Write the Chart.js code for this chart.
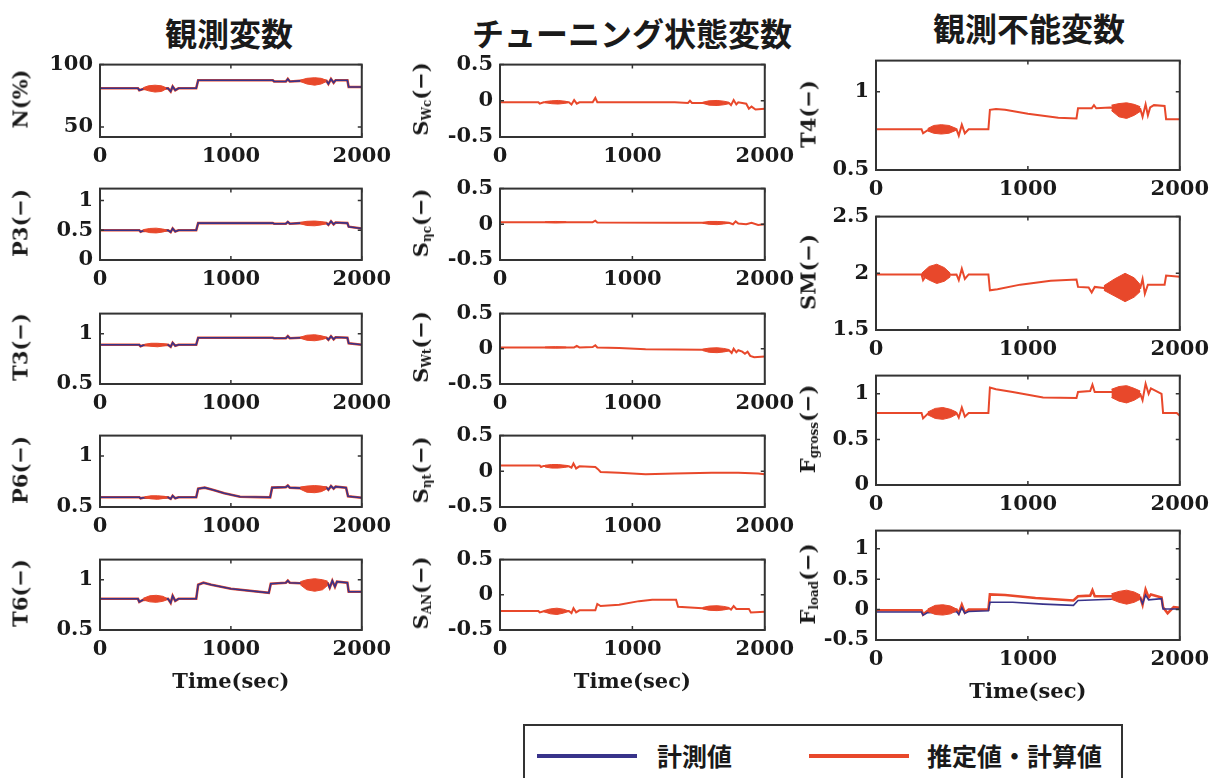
<!DOCTYPE html>
<html lang="ja">
<head>
<meta charset="utf-8">
<title>観測変数・チューニング状態変数・観測不能変数</title>
<script src="https://cdn.jsdelivr.net/npm/chart.js@4.4.1/dist/chart.umd.min.js"></script>
<style>
  body { margin: 0; background: #fff; overflow: hidden; }
  #fig { position: relative; width: 1221px; height: 778px; overflow: hidden; background: #fff; }
  .col-title { position: absolute; transform: translate(-50%, -50%); white-space: nowrap;
    font: bold 32px "Noto Sans CJK JP", sans-serif; color: #1a1a1a; }
  .panel { position: absolute; }
  .ylab { position: absolute; transform: translate(-50%, -50%) rotate(-90deg); white-space: nowrap;
    font: bold 21px "DejaVu Serif", serif; color: #1a1a1a; }
  .ylab sub { font-size: 12px; vertical-align: -3px; }
  #leyenda { position: absolute; left: 523px; top: 724px; width: 600px; height: 66px;
    border: 2px solid #333; box-sizing: border-box; background: #fff; }
  #leyenda .linea { position: absolute; top: 28px; width: 100px; height: 4px; }
  #leyenda .txt { position: absolute; top: 12px; font: bold 25px "Noto Sans CJK JP", sans-serif; color: #1a1a1a; line-height: 34px; }
</style>
</head>
<body>
<div id="fig">
  <div class="col-title" style="left:229px; top:32px">観測変数</div>
  <div class="col-title" style="left:632px; top:32px">チューニング状態変数</div>
  <div class="col-title" style="left:1029px; top:27px">観測不能変数</div>

  <div id="leyenda">
    <div class="linea" style="left:12px; background:#38338a"></div>
    <div class="txt" style="left:132px">計測値</div>
    <div class="linea" style="left:284px; background:#e8482b"></div>
    <div class="txt" style="left:402px">推定値・計算値</div>
  </div>
</div>

<script>
// ---- datos: [tiempo, valor] ; rafagas: [tiempo, min, max] ----
const xTicks = [0, 1000, 2000];

// 観測変数
const ticksN = [50, 100];
const nLinea = [[0,81],[290,81],[300,79.5],[330,80.5],[520,81],[540,78.5],[555,82.5],[575,79.5],[600,81],[735,81],[750,87.5],[1320,87.5],[1330,86.5],[1420,86.5],[1435,88.5],[1450,86.5],[1530,87],[1730,87],[1745,84.5],[1765,88.5],[1785,85.5],[1800,87.5],[1890,87.5],[1900,82],[2000,82]];
const nR1 = [[330,80.5,81.5],[370,79,83],[420,78,83.5],[470,78.5,83],[505,80.5,81.5]];
const nR2 = [[1530,86.5,87.5],[1580,84.5,89],[1640,83.5,89.5],[1690,84.5,89],[1730,86.5,87.5]];

const ticksP3 = [0, 0.5, 1];
const p3Linea = [[0,0.5],[300,0.5],[310,0.475],[330,0.49],[520,0.5],[540,0.47],[555,0.53],[575,0.48],[600,0.5],[735,0.5],[750,0.62],[1320,0.62],[1330,0.61],[1420,0.61],[1435,0.64],[1450,0.61],[1530,0.62],[1730,0.62],[1745,0.59],[1765,0.65],[1785,0.6],[1800,0.63],[1890,0.62],[1900,0.56],[2000,0.53]];
const p3R1 = [[330,0.49,0.51],[380,0.46,0.53],[430,0.455,0.535],[480,0.47,0.52],[510,0.49,0.505]];
const p3R2 = [[1530,0.61,0.63],[1580,0.58,0.65],[1640,0.575,0.655],[1690,0.59,0.645],[1730,0.61,0.63]];

const ticksHalf = [0.5, 1];
const t3Linea = [[0,0.89],[300,0.89],[310,0.875],[330,0.885],[520,0.89],[540,0.87],[555,0.91],[575,0.88],[600,0.89],[735,0.89],[750,0.96],[1320,0.96],[1330,0.955],[1420,0.955],[1435,0.975],[1450,0.955],[1530,0.96],[1730,0.96],[1745,0.94],[1765,0.975],[1785,0.945],[1800,0.965],[1890,0.96],[1900,0.905],[2000,0.89]];
const t3R1 = [[340,0.885,0.895],[390,0.875,0.905],[440,0.87,0.905],[490,0.88,0.9],[515,0.885,0.895]];
const t3R2 = [[1530,0.955,0.965],[1580,0.935,0.985],[1640,0.93,0.99],[1690,0.94,0.98],[1730,0.955,0.965]];

const p6Linea = [[0,0.595],[300,0.595],[310,0.585],[330,0.59],[520,0.595],[540,0.58],[555,0.61],[575,0.585],[600,0.595],[735,0.595],[750,0.68],[800,0.69],[860,0.67],[950,0.635],[1070,0.6],[1300,0.595],[1315,0.69],[1420,0.695],[1435,0.71],[1450,0.69],[1530,0.685],[1730,0.69],[1745,0.67],[1765,0.705],[1785,0.68],[1800,0.7],[1880,0.69],[1895,0.605],[2000,0.59]];
const p6R1 = [[340,0.59,0.6],[390,0.58,0.61],[440,0.575,0.61],[490,0.585,0.605],[515,0.59,0.6]];
const p6R2 = [[1530,0.675,0.695],[1580,0.645,0.705],[1640,0.64,0.71],[1690,0.65,0.705],[1730,0.675,0.695]];

const t6Linea = [[0,0.81],[290,0.81],[300,0.78],[330,0.8],[520,0.81],[540,0.77],[555,0.84],[575,0.79],[600,0.81],[735,0.81],[750,0.95],[790,0.97],[850,0.95],[1000,0.91],[1290,0.87],[1305,0.96],[1420,0.97],[1435,0.99],[1450,0.97],[1530,0.965],[1740,0.965],[1755,0.92],[1775,0.99],[1795,0.93],[1810,0.98],[1890,0.97],[1900,0.88],[2000,0.88]];
const t6R1 = [[330,0.8,0.815],[380,0.78,0.84],[430,0.775,0.845],[480,0.785,0.835],[510,0.8,0.815]];
const t6R2 = [[1530,0.95,0.98],[1580,0.9,1.0],[1640,0.885,1.01],[1700,0.9,1.0],[1740,0.945,0.985]];

// チューニング状態変数
const ticksS = [-0.5, 0, 0.5];
const swcLinea = [[0,-0.02],[290,-0.02],[300,-0.04],[330,-0.02],[520,-0.02],[540,-0.05],[560,0.01],[580,-0.04],[600,-0.02],[700,-0.02],[720,0.04],[735,-0.02],[1320,-0.02],[1420,-0.03],[1435,0.0],[1450,-0.03],[1530,-0.03],[1730,-0.03],[1745,-0.06],[1765,0.01],[1785,-0.05],[1800,-0.02],[1860,-0.04],[1880,-0.11],[1900,-0.08],[1930,-0.12],[2000,-0.11]];
const swcR1 = [[340,-0.025,-0.01],[390,-0.04,0.0],[440,-0.045,0.005],[490,-0.035,-0.005],[515,-0.025,-0.015]];
const swcR2 = [[1530,-0.035,-0.02],[1580,-0.06,0.0],[1640,-0.065,0.005],[1690,-0.055,-0.005],[1730,-0.04,-0.02]];

const etacLinea = [[0,0.03],[700,0.03],[720,0.05],[735,0.025],[1320,0.02],[1530,0.02],[1730,0.02],[1760,0.0],[1780,0.04],[1800,0.01],[1860,0.0],[1900,0.02],[1950,-0.01],[2000,0.0]];
const etacR1 = [[340,0.025,0.035],[420,0.02,0.04],[500,0.025,0.035]];
const etacR2 = [[1530,0.015,0.025],[1580,0.0,0.04],[1640,-0.005,0.04],[1690,0.005,0.035],[1730,0.015,0.025]];

const swtLinea = [[0,0.02],[500,0.02],[560,0.02],[580,0.04],[600,0.02],[700,0.025],[720,0.05],[735,0.02],[900,0.01],[1100,-0.005],[1320,-0.01],[1530,-0.015],[1730,-0.02],[1750,-0.06],[1765,0.0],[1785,-0.05],[1800,-0.02],[1830,-0.04],[1850,-0.07],[1870,-0.04],[1890,-0.1],[1920,-0.12],[2000,-0.11]];
const swtR1 = [[340,0.015,0.025],[420,0.01,0.03],[500,0.015,0.025]];
const swtR2 = [[1530,-0.025,-0.005],[1580,-0.05,0.01],[1640,-0.055,0.015],[1690,-0.045,0.005],[1730,-0.03,-0.01]];

const etatLinea = [[0,0.08],[300,0.08],[310,0.06],[330,0.075],[520,0.07],[540,0.05],[555,0.11],[575,0.04],[600,0.07],[720,0.06],[740,0.03],[760,-0.01],[900,-0.02],[1100,-0.04],[1320,-0.03],[1600,-0.02],[1800,-0.02],[1950,-0.03],[2000,-0.04]];
const etatR1 = [[340,0.06,0.085],[390,0.045,0.095],[440,0.045,0.095],[490,0.055,0.085],[515,0.065,0.08]];

const sanLinea = [[0,-0.23],[290,-0.23],[300,-0.25],[330,-0.235],[520,-0.23],[540,-0.26],[555,-0.19],[575,-0.25],[600,-0.22],[720,-0.22],[735,-0.13],[760,-0.16],[900,-0.14],[1050,-0.09],[1150,-0.07],[1330,-0.07],[1345,-0.17],[1530,-0.19],[1730,-0.19],[1745,-0.21],[1765,-0.16],[1785,-0.2],[1880,-0.2],[1895,-0.25],[2000,-0.24]];
const sanR1 = [[330,-0.24,-0.225],[380,-0.27,-0.2],[430,-0.28,-0.19],[480,-0.26,-0.205],[510,-0.24,-0.225]];
const sanR2 = [[1530,-0.2,-0.18],[1580,-0.22,-0.16],[1640,-0.225,-0.155],[1690,-0.215,-0.165],[1730,-0.2,-0.18]];

// 観測不能変数
const t4Linea = [[0,0.76],[300,0.76],[310,0.735],[340,0.755],[530,0.76],[545,0.72],[565,0.79],[585,0.735],[610,0.76],[740,0.76],[750,0.885],[790,0.89],[850,0.885],[1000,0.86],[1200,0.835],[1320,0.83],[1330,0.895],[1420,0.895],[1435,0.915],[1450,0.895],[1540,0.9],[1740,0.89],[1755,0.84],[1775,0.92],[1790,0.85],[1805,0.9],[1830,0.915],[1900,0.91],[1910,0.825],[2000,0.825]];
const t4R1 = [[340,0.75,0.765],[380,0.735,0.785],[430,0.73,0.79],[480,0.735,0.785],[530,0.755,0.765]];
const t4R2 = [[1550,0.88,0.915],[1600,0.84,0.925],[1650,0.83,0.93],[1700,0.85,0.92],[1740,0.875,0.905]];

const ticksSM = [1.5, 2, 2.5];
const smLinea = [[0,1.99],[300,1.99],[310,1.94],[330,1.98],[530,1.99],[545,1.94],[565,2.04],[585,1.95],[610,1.99],[740,1.99],[750,1.85],[800,1.86],[950,1.9],[1150,1.935],[1320,1.945],[1330,1.88],[1400,1.875],[1420,1.83],[1440,1.88],[1500,1.87],[1740,1.87],[1755,1.95],[1770,1.82],[1790,1.9],[1900,1.9],[1910,1.98],[2000,1.97]];
const smR1 = [[300,1.98,2.0],[350,1.94,2.06],[400,1.91,2.08],[450,1.93,2.05],[490,1.97,2.0]];
const smR2 = [[1500,1.85,1.89],[1570,1.8,1.95],[1640,1.75,2.0],[1700,1.79,1.96],[1740,1.84,1.9]];

const fgLinea = [[0,0.79],[300,0.79],[310,0.73],[340,0.78],[530,0.79],[545,0.74],[565,0.85],[585,0.75],[610,0.79],[740,0.79],[750,1.07],[790,1.05],[900,1.02],[1100,0.96],[1320,0.955],[1330,1.02],[1410,1.03],[1425,1.1],[1440,1.02],[1550,1.02],[1740,1.0],[1755,0.93],[1775,1.11],[1795,1.0],[1810,1.06],[1880,1.0],[1890,0.79],[1980,0.79],[2000,0.76]];
const fgR1 = [[340,0.77,0.8],[390,0.73,0.84],[440,0.72,0.85],[490,0.74,0.83],[530,0.775,0.8]];
const fgR2 = [[1550,0.96,1.05],[1600,0.92,1.08],[1650,0.9,1.09],[1700,0.93,1.06],[1740,0.97,1.03]];

const ticksFL = [-0.5, 0, 0.5, 1];
const flRojo = [[0,-0.01],[300,-0.01],[310,-0.08],[340,-0.02],[530,0.0],[545,-0.06],[565,0.08],[585,-0.05],[610,0.0],[740,0.0],[750,0.25],[850,0.24],[1050,0.19],[1300,0.15],[1330,0.22],[1410,0.23],[1425,0.32],[1440,0.22],[1550,0.22],[1740,0.2],[1755,0.08],[1775,0.33],[1795,0.2],[1810,0.25],[1880,0.2],[1890,0.04],[1920,-0.06],[1960,0.04],[2000,0.03]];
const flAzul = [[0,-0.04],[300,-0.04],[310,-0.09],[340,-0.05],[530,-0.03],[545,-0.08],[565,0.03],[585,-0.06],[610,-0.03],[740,-0.02],[750,0.12],[900,0.12],[1100,0.09],[1300,0.07],[1330,0.15],[1550,0.17],[1740,0.19],[1755,0.1],[1775,0.24],[1795,0.16],[1880,0.18],[1890,0.01],[2000,0.01]];
const flR1 = [[340,-0.03,0.01],[390,-0.08,0.07],[440,-0.09,0.08],[490,-0.07,0.06],[530,-0.02,0.01]];
const flR2 = [[1550,0.17,0.26],[1600,0.12,0.3],[1650,0.09,0.32],[1700,0.12,0.29],[1740,0.17,0.24]];

// ---- estilos y disposicion ----
const ROJO = '#e8482b';
const AZUL = '#38338a';
const FUENTE = '"DejaVu Serif", serif';

// caja de cada panel: [izq, der] por columna y [arriba, abajo] por fila
const colX = [[100, 362], [500, 765], [876, 1180]];
const filaY = [
  [[61, 137], [185, 260], [310, 384], [432, 507], [556, 630]],
  [[61, 137], [185, 260], [310, 384], [432, 507], [556, 630]],
  [[57, 170], [213, 330], [372, 485], [527, 640]]
];
const yLabX = [20, 421, 808];

const paneles = [
  { col: 0, fila: 0, titulo: 'N(%)', rango: [42, 100], ticks: ticksN, est: nLinea, meas: nLinea, rafagas: [nR1, nR2] },
  { col: 0, fila: 1, titulo: 'P3(−)', rango: [0, 1.2], ticks: ticksP3, est: p3Linea, meas: p3Linea, rafagas: [p3R1, p3R2] },
  { col: 0, fila: 2, titulo: 'T3(−)', rango: [0.5, 1.2], ticks: ticksHalf, est: t3Linea, meas: t3Linea, rafagas: [t3R1, t3R2] },
  { col: 0, fila: 3, titulo: 'P6(−)', rango: [0.5, 1.2], ticks: ticksHalf, est: p6Linea, meas: p6Linea, rafagas: [p6R1, p6R2] },
  { col: 0, fila: 4, titulo: 'T6(−)', rango: [0.5, 1.2], ticks: ticksHalf, est: t6Linea, meas: t6Linea, rafagas: [t6R1, t6R2] },
  { col: 1, fila: 0, titulo: 'S<sub>Wc</sub>(−)', rango: [-0.5, 0.5], ticks: ticksS, est: swcLinea, rafagas: [swcR1, swcR2] },
  { col: 1, fila: 1, titulo: 'S<sub>ηc</sub>(−)', rango: [-0.5, 0.5], ticks: ticksS, est: etacLinea, rafagas: [etacR1, etacR2] },
  { col: 1, fila: 2, titulo: 'S<sub>Wt</sub>(−)', rango: [-0.5, 0.5], ticks: ticksS, est: swtLinea, rafagas: [swtR1, swtR2] },
  { col: 1, fila: 3, titulo: 'S<sub>ηt</sub>(−)', rango: [-0.5, 0.5], ticks: ticksS, est: etatLinea, rafagas: [etatR1] },
  { col: 1, fila: 4, titulo: 'S<sub>AN</sub>(−)', rango: [-0.5, 0.5], ticks: ticksS, est: sanLinea, rafagas: [sanR1, sanR2] },
  { col: 2, fila: 0, titulo: 'T4(−)', rango: [0.5, 1.2], ticks: ticksHalf, est: t4Linea, rafagas: [t4R1, t4R2] },
  { col: 2, fila: 1, titulo: 'SM(−)', rango: [1.5, 2.5], ticks: ticksSM, est: smLinea, rafagas: [smR1, smR2] },
  { col: 2, fila: 2, titulo: 'F<sub>gross</sub>(−)', rango: [0, 1.2], ticks: ticksP3, est: fgLinea, rafagas: [fgR1, fgR2] },
  { col: 2, fila: 3, titulo: 'F<sub>load</sub>(−)', rango: [-0.5, 1.3], ticks: ticksFL, est: flRojo, meas: flAzul, rafagas: [flR1, flR2] }
];

// marco completo + marcas de tick hacia dentro (estilo Matlab)
const marcoPlugin = {
  id: 'marco',
  afterDatasetsDraw(chart) {
    const { ctx, chartArea: a, scales: { x, y } } = chart;
    ctx.save();
    ctx.strokeStyle = '#333';
    ctx.lineWidth = 1.5;
    ctx.beginPath();
    x.ticks.forEach(t => {
      const px = x.getPixelForValue(t.value);
      ctx.moveTo(px, a.bottom); ctx.lineTo(px, a.bottom - 4);
      ctx.moveTo(px, a.top); ctx.lineTo(px, a.top + 4);
    });
    y.ticks.forEach(t => {
      const py = y.getPixelForValue(t.value);
      ctx.moveTo(a.left, py); ctx.lineTo(a.left + 4, py);
      ctx.moveTo(a.right, py); ctx.lineTo(a.right - 4, py);
    });
    ctx.stroke();
    ctx.lineWidth = 2;
    ctx.strokeRect(a.left, a.top, a.width, a.height);
    ctx.restore();
  }
};

const aPuntos = arr => arr.map(([x, y]) => ({ x, y }));

function crearPanel(p) {
  const [L, R] = colX[p.col];
  const [T, B] = filaY[p.col][p.fila];
  const esUltima = p.fila === filaY[p.col].length - 1;
  const padL = 70, padT = 16, padR = 36;
  const xH = esUltima ? 65 : 34;
  const w = (R - L) + padL + padR;
  const h = (B - T) + padT + xH;

  const fig = document.getElementById('fig');
  const div = document.createElement('div');
  div.className = 'panel';
  div.style.left = (L - padL) + 'px';
  div.style.top = (T - padT) + 'px';
  const canvas = document.createElement('canvas');
  canvas.width = w;
  canvas.height = h;
  div.appendChild(canvas);
  fig.appendChild(div);

  const lab = document.createElement('div');
  lab.className = 'ylab';
  lab.innerHTML = p.titulo;
  lab.style.left = yLabX[p.col] + 'px';
  lab.style.top = ((T + B) / 2) + 'px';
  fig.appendChild(lab);

  const datasets = [];
  p.rafagas.forEach(r => {
    datasets.push({ data: aPuntos(r.map(v => [v[0], v[2]])), borderColor: ROJO, borderWidth: 1, fill: false, order: 0 });
    datasets.push({ data: aPuntos(r.map(v => [v[0], v[1]])), borderColor: ROJO, borderWidth: 1, fill: '-1', backgroundColor: ROJO, order: 0 });
  });
  if (p.meas) {
    datasets.push({ data: aPuntos(p.meas), borderColor: AZUL, borderWidth: 1.6, order: 1 });
  }
  datasets.push({ data: aPuntos(p.est), borderColor: ROJO, borderWidth: p.meas ? 2.6 : 2, order: 2 });

  const fuenteTick = { family: FUENTE, size: 21, weight: 'bold' };

  new Chart(canvas, {
    type: 'line',
    data: { datasets },
    options: {
      responsive: false,
      animation: false,
      devicePixelRatio: 1,
      layout: { padding: { left: 0, top: padT, right: padR, bottom: 0 } },
      elements: { point: { radius: 0 }, line: { tension: 0 } },
      plugins: { legend: { display: false }, tooltip: { enabled: false } },
      scales: {
        x: {
          type: 'linear', min: 0, max: 2000,
          afterBuildTicks: s => { s.ticks = xTicks.map(v => ({ value: v })); },
          afterFit: s => { s.height = xH; },
          ticks: { font: fuenteTick, color: '#1a1a1a', padding: 7, maxRotation: 0, autoSkip: false, callback: v => String(v) },
          grid: { display: false, drawTicks: false },
          border: { display: false },
          title: { display: esUltima, text: 'Time(sec)', color: '#1a1a1a', padding: { top: 0, bottom: 0 },
                   font: { family: FUENTE, size: 21, weight: 'bold' } }
        },
        y: {
          min: p.rango[0], max: p.rango[1],
          afterBuildTicks: s => { s.ticks = p.ticks.map(v => ({ value: v })); },
          afterFit: s => { s.width = padL; },
          ticks: { font: fuenteTick, color: '#1a1a1a', padding: 7, autoSkip: false, callback: v => String(v) },
          grid: { display: false, drawTicks: false },
          border: { display: false }
        }
      }
    },
    plugins: [marcoPlugin]
  });
}

paneles.forEach(crearPanel);
</script>
</body>
</html>
